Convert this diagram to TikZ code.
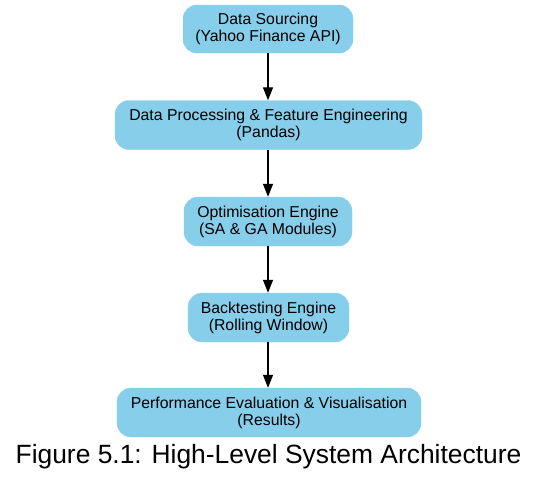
\documentclass[tikz,border=0pt]{standalone}
\usepackage{fontspec}
\setmainfont{Liberation Sans}
\usetikzlibrary{arrows.meta}
\definecolor{skyb}{HTML}{87CEEB}
\begin{document}
\begin{tikzpicture}[x=1pt,y=1pt,
  box/.style={fill=skyb, draw=skyb, rounded corners=14pt, align=center,
    inner sep=0pt, font=\fontsize{15.8}{17}\selectfont, text=black},
  flow/.style={-{Triangle[length=13pt,width=10pt]}, line width=1.3pt, black}]
\useasboundingbox (0,0) rectangle (537,-483);
\node[box, minimum width=170pt, minimum height=48pt] (n1) at (268,-29) {Data Sourcing\\(Yahoo Finance API)};
\node[box, minimum width=307pt, minimum height=49pt] (n2) at (268.5,-125) {Data Processing \& Feature Engineering\\(Pandas)};
\node[box, minimum width=168pt, minimum height=49pt] (n3) at (268,-221.5) {Optimisation Engine\\(SA \& GA Modules)};
\node[box, minimum width=161pt, minimum height=49pt] (n4) at (268.5,-317.5) {Backtesting Engine\\(Rolling Window)};
\node[box, minimum width=304pt, minimum height=49pt] (n5) at (269,-412.5) {Performance Evaluation \& Visualisation\\(Results)};
\draw[flow] (n1.south -| 268,0) -- (n2.north -| 268,0);
\draw[flow] (n2.south -| 268,0) -- (n3.north -| 268,0);
\draw[flow] (n3.south -| 268,0) -- (n4.north -| 268,0);
\draw[flow] (n4.south -| 268,0) -- (n5.north -| 268,0);
\node[anchor=base, inner sep=0pt, font=\fontsize{26.4}{30}\selectfont] (cap) at (268.5,-463) {Figure 5.1: High-Level System Architecture};
\end{tikzpicture}
\end{document}
